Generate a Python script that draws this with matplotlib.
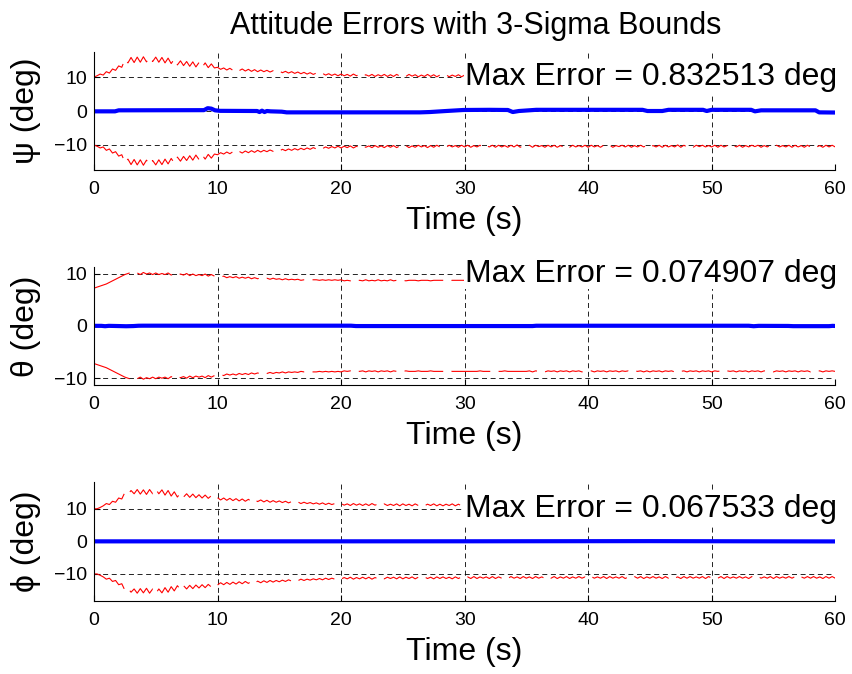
import numpy as np
import matplotlib
matplotlib.use("Agg")
import matplotlib.pyplot as plt

plt.rcParams['font.family'] = ['Liberation Sans', 'DejaVu Sans']
plt.rcParams['lines.scale_dashes'] = False

# 3-sigma bound time base (s)
dt_bound = 0.25
t_bound = np.arange(241) * dt_bound

# upper 3-sigma bounds (deg), lower bound is the mirror image
psi_sigma = [
    10.0, 10.4, 10.9, 10.6, 11.6, 11.2, 12.4, 12.0, 13.3, 12.9, 15.2, 14.2, 15.8, 14.3, 15.9, 14.4, 16.0, 14.5, 15.8, 14.6,
    15.9, 14.4, 15.8, 14.2, 15.6, 14.0, 15.3, 13.6, 14.8, 13.4, 14.6, 13.2, 14.5, 13.0, 14.3, 12.9, 14.2, 12.8, 13.9, 12.7,
    12.9, 12.3, 12.7, 12.1, 12.6, 12.0, 12.5, 11.9, 12.4, 11.8, 12.3, 11.7, 12.2, 11.6, 12.1, 11.6, 12.0, 11.5, 11.9, 11.4,
    11.8, 11.3, 11.7, 11.2, 11.6, 11.1, 11.5, 11.0, 11.4, 10.9, 11.3, 10.8, 11.2, 10.7, 11.1, 10.6, 11.0, 10.5, 10.9, 10.4,
    10.9, 10.4, 10.8, 10.3, 10.9, 10.4, 10.8, 10.2, 10.7, 10.3, 10.8, 10.2, 10.7, 10.3, 10.8, 10.2, 10.7, 10.2, 10.8, 10.3,
    10.7, 10.2, 10.8, 10.3, 10.7, 10.1, 10.6, 10.2, 10.8, 10.2, 10.7, 10.1, 10.6, 10.2, 10.7, 10.1, 10.6, 10.2, 10.7, 10.1,
    10.6, 10.1, 10.7, 10.2, 10.6, 10.1, 10.8, 10.2, 10.6, 10.1, 10.7, 10.1, 10.6, 10.2, 10.7, 10.1, 10.6, 10.0, 10.7, 10.2,
    10.6, 10.1, 10.7, 10.1, 10.5, 10.2, 10.7, 10.1, 10.6, 10.1, 10.7, 10.2, 10.6, 10.0, 10.7, 10.1, 10.6, 10.2, 10.6, 10.1,
    10.7, 10.1, 10.6, 10.2, 10.7, 10.1, 10.6, 10.1, 10.7, 10.2, 10.5, 10.1, 10.6, 10.1, 10.7, 10.2, 10.6, 10.1, 10.6, 10.1,
    10.7, 10.2, 10.6, 10.1, 10.7, 10.1, 10.6, 10.2, 10.6, 10.0, 10.7, 10.1, 10.6, 10.2, 10.7, 10.1, 10.5, 10.1, 10.6, 10.2,
    10.6, 10.1, 10.7, 10.1, 10.6, 10.2, 10.7, 10.1, 10.6, 10.1, 10.7, 10.2, 10.6, 10.1, 10.5, 10.1, 10.7, 10.2, 10.6, 10.1,
    10.7, 10.1, 10.6, 10.2, 10.6, 10.1, 10.7, 10.1, 10.6, 10.2, 10.7, 10.1, 10.6, 10.1, 10.6, 10.2, 10.7, 10.1, 10.6, 10.1,
    10.6,
]
theta_sigma = [
    7.2, 7.4, 7.6, 7.8, 8.0, 8.3, 8.6, 8.9, 9.2, 9.5, 9.8, 10.0, 10.2, 9.9, 10.1, 9.8, 10.2, 9.9, 10.1, 9.8,
    10.1, 9.8, 10.0, 9.8, 10.1, 9.7, 10.0, 9.7, 9.9, 9.7, 10.0, 9.6, 9.9, 9.6, 9.8, 9.6, 9.9, 9.5, 9.8, 9.5,
    9.5, 9.3, 9.5, 9.2, 9.4, 9.2, 9.4, 9.1, 9.3, 9.1, 9.3, 9.0, 9.2, 9.0, 9.2, 9.0, 9.1, 8.9, 9.1, 8.9,
    9.0, 8.8, 9.0, 8.8, 8.9, 8.8, 8.9, 8.7, 8.8, 8.8, 8.8, 8.8, 8.8, 8.7, 8.8, 8.7, 8.8, 8.7, 8.8, 8.7,
    8.8, 8.6, 8.7, 8.6, 8.8, 8.6, 8.7, 8.6, 8.8, 8.6, 8.7, 8.6, 8.8, 8.6, 8.7, 8.6, 8.8, 8.6, 8.7, 8.6,
    8.7, 8.6, 8.7, 8.7, 8.7, 8.6, 8.7, 8.7, 8.7, 8.6, 8.7, 8.7, 8.7, 8.7, 8.7, 8.6, 8.7, 8.7, 8.7, 8.7,
    8.7, 8.7, 8.7, 8.7, 8.7, 8.6, 8.7, 8.7, 8.7, 8.7, 8.7, 8.7, 8.7, 8.6, 8.7, 8.7, 8.7, 8.7, 8.7, 8.7,
    8.7, 8.6, 8.8, 8.6, 8.7, 8.6, 8.8, 8.6, 8.7, 8.6, 8.8, 8.6, 8.7, 8.6, 8.8, 8.6, 8.7, 8.6, 8.8, 8.6,
    8.7, 8.6, 8.8, 8.6, 8.7, 8.6, 8.8, 8.6, 8.7, 8.6, 8.8, 8.6, 8.7, 8.6, 8.8, 8.6, 8.7, 8.6, 8.8, 8.6,
    8.8, 8.6, 8.7, 8.6, 8.8, 8.6, 8.7, 8.6, 8.8, 8.6, 8.7, 8.6, 8.8, 8.6, 8.7, 8.6, 8.8, 8.6, 8.7, 8.6,
    8.8, 8.6, 8.7, 8.6, 8.8, 8.6, 8.7, 8.6, 8.8, 8.6, 8.7, 8.6, 8.8, 8.6, 8.7, 8.6, 8.8, 8.6, 8.7, 8.6,
    8.8, 8.6, 8.7, 8.6, 8.8, 8.6, 8.7, 8.6, 8.8, 8.6, 8.7, 8.6, 8.8, 8.6, 8.7, 8.6, 8.8, 8.6, 8.7, 8.6,
    8.7,
]
phi_sigma = [
    10.0, 10.0, 10.4, 10.9, 11.6, 11.3, 12.3, 12.0, 13.3, 13.0, 15.0, 14.4, 15.6, 14.6, 15.9, 14.5, 15.8, 14.4, 15.9, 14.6,
    16.0, 14.6, 15.8, 14.2, 15.6, 13.9, 15.2, 13.6, 14.8, 13.6, 14.6, 13.5, 14.5, 13.4, 14.3, 13.3, 14.2, 13.2, 14.0, 13.1,
    13.4, 12.7, 13.3, 12.6, 13.2, 12.5, 13.1, 12.4, 13.0, 12.3, 12.9, 12.2, 12.8, 12.2, 12.7, 12.1, 12.6, 12.0, 12.5, 12.0,
    12.4, 11.9, 12.3, 11.8, 12.2, 11.7, 12.1, 11.6, 12.0, 11.6, 11.9, 11.5, 11.8, 11.4, 11.8, 11.3, 11.7, 11.3, 11.6, 11.2,
    11.6, 11.1, 11.5, 11.0, 11.6, 11.1, 11.5, 11.0, 11.5, 11.0, 11.6, 11.1, 11.5, 11.0, 11.5, 11.0, 11.4, 11.0, 11.5, 10.9,
    11.5, 11.0, 11.4, 10.9, 11.5, 11.0, 11.4, 10.9, 11.4, 11.0, 11.5, 10.9, 11.4, 10.9, 11.4, 11.0, 11.5, 10.9, 11.4, 10.9,
    11.4, 10.9, 11.4, 10.8, 11.4, 10.9, 11.3, 10.9, 11.4, 10.8, 11.4, 10.9, 11.3, 10.9, 11.4, 10.8, 11.3, 10.9, 11.4, 10.8,
    11.3, 10.9, 11.4, 10.8, 11.3, 10.9, 11.4, 10.8, 11.3, 10.8, 11.4, 10.9, 11.3, 10.8, 11.4, 10.9, 11.3, 10.8, 11.3, 10.9,
    11.4, 10.8, 11.3, 10.9, 11.3, 10.8, 11.4, 10.8, 11.3, 10.9, 11.3, 10.8, 11.4, 10.9, 11.3, 10.8, 11.3, 10.8, 11.4, 10.9,
    11.3, 10.8, 11.3, 10.9, 11.4, 10.8, 11.3, 10.8, 11.3, 10.9, 11.4, 10.8, 11.3, 10.8, 11.3, 10.9, 11.3, 10.8, 11.4, 10.8,
    11.3, 10.9, 11.3, 10.8, 11.4, 10.8, 11.3, 10.9, 11.3, 10.8, 11.3, 10.9, 11.4, 10.8, 11.3, 10.8, 11.3, 10.9, 11.3, 10.8,
    11.4, 10.8, 11.3, 10.9, 11.3, 10.8, 11.3, 10.8, 11.4, 10.9, 11.3, 10.8, 11.3, 10.8, 11.3, 10.9, 11.4, 10.8, 11.3, 10.8,
    11.3,
]

# attitude errors (deg)
psi_t = [0, 1.7, 2.0, 8.9, 9.2, 9.5, 9.8, 10.2, 13.2, 13.4, 13.6, 13.8, 14.0, 14.3, 15.2, 15.6, 26.4, 27.2, 28.5,
         29.9, 32.0, 33.5, 33.9, 34.4, 35.8, 44.4, 44.8, 46.0, 46.5, 49.3, 49.6, 50.0, 53.2, 53.5, 54.0, 58.4, 58.7, 60]
psi_err = [-0.1, -0.1, 0.2, 0.25, 0.832513, 0.7, 0.2, 0.05, 0.0, -0.3, 0.1, -0.3, 0.0, -0.1, -0.2, -0.4, -0.4, -0.3,
           0.0, 0.3, 0.35, 0.3, -0.3, 0.0, 0.35, 0.35, 0.0, 0.0, 0.35, 0.35, 0.0, 0.35, 0.35, -0.1, 0.2, 0.2, -0.4, -0.45]
theta_t = [0, 0.6, 0.9, 1.2, 2.0, 2.6, 3.2, 3.6, 4.0, 20.8, 21.2, 35.5, 35.8, 53.0, 53.4, 53.8, 56.2, 56.6, 59.5, 59.8, 60]
theta_err = [0.0, 0.0, -0.07, 0.0, -0.04, -0.074907, -0.04, 0.02, 0.03, 0.03, -0.04, -0.04, 0.02, 0.02, -0.07, 0.0,
             -0.02, -0.06, -0.06, 0.0, -0.03]
phi_t = [0, 20, 30, 45, 60]
phi_err = [0.0, 0.01, 0.02, 0.067533, -0.02]

panels = [
    ("\u03c8 (deg)", psi_t, psi_err, psi_sigma, 17.4),
    ("\u03b8 (deg)", theta_t, theta_err, theta_sigma, 11.3),
    ("\u03d5 (deg)", phi_t, phi_err, phi_sigma, 18.3),
]
ax_boxes = [
    (0.1103, 0.7478, 0.870, 0.175),
    (0.1103, 0.4288, 0.870, 0.1755),
    (0.1103, 0.1083, 0.870, 0.177),
]

fig = plt.figure(figsize=(8.52, 6.74), dpi=100)
axes = []
for (ylab, te, err, sig, ylim), box in zip(panels, ax_boxes):
    ax = fig.add_axes(box)
    sig = np.array(sig)
    ax.plot(t_bound, sig, color="red", lw=0.8, dashes=(28, 6))
    ax.plot(t_bound, -sig, color="red", lw=0.8, dashes=(28, 6))
    ax.plot(te, err, color="blue", lw=3, solid_joinstyle="round")
    max_err = np.max(np.abs(err))
    ax.text(30, 10, "Max Error = %f deg" % max_err, fontsize=23, ha="left", va="center",
            bbox=dict(facecolor="white", edgecolor="none", pad=0.5))

    ax.set_xlim(0, 60)
    ax.set_ylim(-ylim, ylim)
    ax.set_xticks([0, 10, 20, 30, 40, 50, 60])
    ax.set_yticks([-10, 0, 10])
    ax.grid(True, color="k", lw=0.6, dashes=(3.6, 2.6))
    ax.set_axisbelow(True)
    for side in ["top", "right"]:
        ax.spines[side].set_visible(False)
    for side in ["left", "bottom"]:
        ax.spines[side].set_linewidth(0.8)
    ax.tick_params(direction="in", length=4, width=0.8, labelsize=14, pad=5)
    ax.tick_params(axis="x", pad=8)
    ax.set_xlabel("Time (s)", fontsize=23, labelpad=6)
    ax.set_ylabel(ylab, fontsize=23, labelpad=9)
    axes.append(ax)

title = axes[0].set_title("Attitude Errors with 3-Sigma Bounds", fontsize=22, pad=13)
title.set_x(0.515)
fig.align_ylabels(axes)

fig.savefig("out.png", dpi=100)
